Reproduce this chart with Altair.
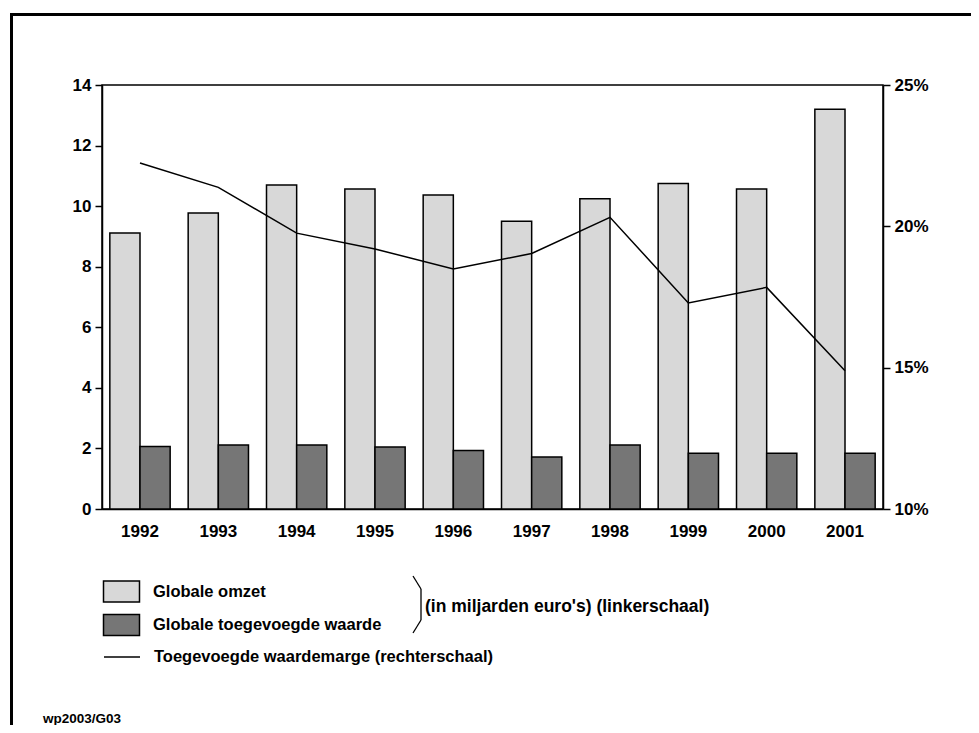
import altair as alt
import pandas as pd

years = ["1992", "1993", "1994", "1995", "1996", "1997", "1998", "1999", "2000", "2001"]
omzet = [9.11, 9.77, 10.70, 10.57, 10.37, 9.50, 10.24, 10.75, 10.57, 13.20]
toegevoegd = [2.06, 2.11, 2.11, 2.05, 1.93, 1.72, 2.11, 1.84, 1.84, 1.84]
marge = [22.24, 21.38, 19.76, 19.20, 18.49, 19.04, 20.32, 17.29, 17.84, 14.89]

series_names = ["Globale omzet", "Globale toegevoegde waarde"]
line_name = "Toegevoegde waardemarge (rechterschaal)"
left_ticks = [0, 2, 4, 6, 8, 10, 12, 14]
right_ticks = [10, 15, 20, 25]

FONT = "Liberation Sans"

bars_df = pd.DataFrame({
    "jaar": years * 2,
    "reeks": [series_names[0]] * len(years) + [series_names[1]] * len(years),
    "waarde": omzet + toegevoegd,
})
line_df = pd.DataFrame({"jaar": years, "marge": marge, "reeks": [line_name] * len(years)})
one = pd.DataFrame({"a": [0]})

xscale = alt.Scale(paddingInner=0.23, paddingOuter=0.1)

bars = alt.Chart(bars_df).mark_bar(stroke="black", strokeWidth=1.5).encode(
    x=alt.X("jaar:N", scale=xscale, sort=years,
            axis=alt.Axis(title=None, labelAngle=0, ticks=False, labelPadding=14)),
    xOffset=alt.XOffset("reeks:N", sort=series_names),
    y=alt.Y("waarde:Q", scale=alt.Scale(domain=[0, 14], nice=False),
            axis=alt.Axis(title=None, values=left_ticks, grid=False, orient="left",
                          tickSize=7, labelPadding=4)),
    fill=alt.Fill("reeks:N", sort=series_names,
                  scale=alt.Scale(domain=series_names, range=["#d8d8d8", "#767676"]),
                  legend=alt.Legend(title=None, orient="none", legendX=8, legendY=495,
                                    direction="vertical", padding=0,
                                    symbolType="M-1.714,-1L1.714,-1L1.714,1L-1.714,1Z",
                                    symbolSize=441, symbolStrokeColor="black",
                                    symbolStrokeWidth=1.5, symbolOpacity=1,
                                    labelOffset=20, rowPadding=6.5,
                                    labelFontSize=16.5, labelFont=FONT,
                                    labelFontWeight="bold", labelColor="black",
                                    labelLimit=400)),
)

line = alt.Chart(line_df).mark_line(strokeWidth=1.5).encode(
    x=alt.X("jaar:N", scale=xscale, sort=years),
    y=alt.Y("marge:Q", scale=alt.Scale(domain=[10, 25], nice=False),
            axis=alt.Axis(title=None, values=right_ticks, grid=False, orient="right",
                          tickSize=7, labelPadding=4,
                          labelExpr="datum.value + '%'")),
    stroke=alt.Stroke("reeks:N", scale=alt.Scale(domain=[line_name], range=["black"]),
                      legend=alt.Legend(title=None, orient="none", legendX=1, legendY=553,
                                        padding=0, symbolType="stroke", symbolSize=1296,
                                        symbolStrokeWidth=1.5, labelOffset=13,
                                        labelFontSize=16.5, labelFont=FONT,
                                        labelFontWeight="bold", labelColor="black",
                                        labelLimit=500)),
)

# bracket grouping the two bar series
br1 = alt.Chart(one).mark_rule(stroke="black", strokeWidth=1.3).encode(
    x=alt.value(311), y=alt.value(491), x2=alt.value(319), y2=alt.value(504))
br2 = alt.Chart(one).mark_rule(stroke="black", strokeWidth=1.3).encode(
    x=alt.value(319), y=alt.value(504), x2=alt.value(319), y2=alt.value(535))
br3 = alt.Chart(one).mark_rule(stroke="black", strokeWidth=1.3).encode(
    x=alt.value(319), y=alt.value(535), x2=alt.value(311), y2=alt.value(548))

unit_text = alt.Chart(one).mark_text(
    text="(in miljarden euro's) (linkerschaal)", align="left", baseline="middle",
    font=FONT, fontWeight="bold", fontSize=17.5, color="black",
).encode(x=alt.value(323), y=alt.value(522))

footer = alt.Chart(one).mark_text(
    text="wp2003/G03", align="left", baseline="middle",
    font=FONT, fontWeight="bold", fontSize=13.5, color="black",
).encode(x=alt.value(-59), y=alt.value(634))

frame = alt.Chart(one).mark_rect(fill=None, stroke="black", strokeWidth=3).encode(
    x=alt.value(-90.5), y=alt.value(-70.5), x2=alt.value(1000), y2=alt.value(800))

chart = alt.layer(bars, line, br1, br2, br3, unit_text, footer, frame).resolve_scale(
    y="independent"
).properties(
    width=781, height=424,
    background="white",
    autosize=alt.AutoSizeParams(type="none"),
    padding={"left": 94, "top": 77, "right": 88, "bottom": 216},
).configure_view(
    stroke="black", strokeWidth=1.5
).configure_axis(
    domainColor="black", domainWidth=1.5, tickColor="black", tickWidth=1.5,
    labelFont=FONT, labelFontWeight="bold", labelFontSize=17, labelColor="black",
)

chart.save("out.html", embed_options={"renderer": "svg", "actions": False})
